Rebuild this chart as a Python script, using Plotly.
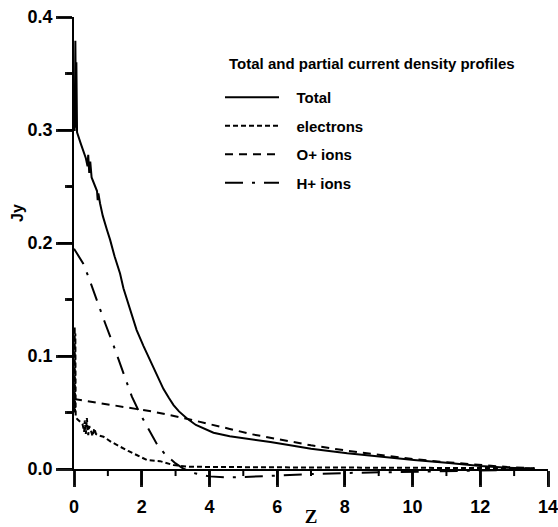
import plotly.graph_objects as go

# ---- data ----
z_total = [0.00, 0.02, 0.04, 0.06, 0.07, 0.09, 0.20, 0.35, 0.40, 0.42, 0.45, 0.48, 0.52, 0.60,
           0.68, 0.70, 0.72, 0.77, 0.85, 0.97, 1.065, 1.20, 1.36, 1.46, 1.56, 1.70, 1.85, 2.05,
           2.25, 2.45, 2.64, 2.80, 2.94, 3.10, 3.33, 3.60, 4.12, 4.60, 5.21, 5.80, 6.34, 7.00,
           8.07, 9.00, 10.04, 11.00, 12.00, 12.80, 13.60]
j_total = [0.300, 0.300, 0.379, 0.302, 0.360, 0.298, 0.288, 0.275, 0.268, 0.278, 0.262, 0.272,
           0.258, 0.252, 0.246, 0.238, 0.244, 0.235, 0.224, 0.212, 0.203, 0.188, 0.173, 0.160,
           0.151, 0.138, 0.123, 0.109, 0.096, 0.083, 0.071, 0.063, 0.0566, 0.051, 0.045, 0.039,
           0.0321, 0.029, 0.0265, 0.024, 0.0212, 0.0180, 0.0139, 0.0108, 0.0080, 0.0055, 0.0027,
           0.0012, 0.0003]

z_elec = [0.00, 0.02, 0.03, 0.04, 0.05, 0.10, 0.18, 0.25, 0.30, 0.32, 0.35, 0.38, 0.42, 0.45,
          0.50, 0.55, 0.60, 0.65, 0.70, 0.87, 1.10, 1.36, 1.60, 1.85, 2.15, 2.54, 2.94, 3.40,
          4.00, 6.00, 8.00, 10.00, 12.00, 13.60]
j_elec = [0.050, 0.126, 0.050, 0.120, 0.046, 0.044, 0.042, 0.040, 0.033, 0.043, 0.031, 0.045,
          0.030, 0.038, 0.034, 0.029, 0.036, 0.031, 0.030, 0.0286, 0.024, 0.0197, 0.016, 0.0124,
          0.008, 0.007, 0.0035, 0.002, 0.0018, 0.0015, 0.0013, 0.0011, 0.0009, 0.0007]

z_oplus = [0.00, 0.50, 1.16, 2.35, 3.33, 4.00, 4.60, 5.21, 6.09, 6.34, 7.00, 8.07, 9.00, 10.04,
           11.00, 12.00, 12.80, 13.60]
j_oplus = [0.062, 0.0595, 0.0566, 0.0507, 0.0445, 0.040, 0.0355, 0.031, 0.026, 0.0248, 0.021,
           0.0162, 0.0125, 0.0088, 0.006, 0.0035, 0.0018, 0.0006]

z_hplus = [0.00, 0.27, 0.44, 0.72, 0.92, 1.16, 1.41, 1.61, 1.71, 1.95, 2.25, 2.45, 2.69, 3.00,
           3.25, 3.60, 4.00, 4.50, 5.00, 6.00, 7.00, 8.00, 9.00, 10.00, 11.00, 12.00, 13.00, 13.60]
j_hplus = [0.195, 0.182, 0.169, 0.145, 0.129, 0.110, 0.089, 0.074, 0.064, 0.049, 0.032, 0.022,
           0.013, 0.005, 0.000, -0.004, -0.0065, -0.0075, -0.007, -0.0055, -0.0045, -0.0035,
           -0.003, -0.0025, -0.002, -0.0015, -0.0008, 0.0]

# tick values
x_major = [0, 2, 4, 6, 8, 10, 12, 14]
x_minor = [1, 3, 5, 7, 9, 11, 13]
y_major = [0.0, 0.1, 0.2, 0.3, 0.4]
y_minor = [0.05, 0.15, 0.25, 0.35]

X_RANGE = [0, 14]
X_DTICK = 2
Y_DTICK, Y_MINOR = 0.1, 0.05

legend_title = "Total and partial current density profiles"
names = ["Total", "electrons", "O+ ions", "H+ ions"]

Y_MIN = -0.0097
Y_MAX = 0.4
PAD = "\u00a0\u00a0\u00a0"
TICK_COLOR = "#1c1c1c"

W, H = 558, 527
ML, MR, MT, MB = 74, 10, 17, 47
PW, PH = W - ML - MR, H - MT - MB
MAJOR_LEN, MINOR_LEN = 16, 7

fig = go.Figure()
fig.add_trace(go.Scatter(x=[], y=[], xaxis="x", yaxis="y", showlegend=False))
styles = [
    (z_total, j_total, "solid"),
    (z_elec, j_elec, "5px,3px"),
    (z_oplus, j_oplus, "8px,6px"),
    (z_hplus, j_hplus, "18px,9px,3px,9px"),
]
for i, (zz, jj, dash) in enumerate(styles):
    fig.add_trace(go.Scatter(
        x=zz, y=jj, mode="lines", name=PAD + names[i], legendgroup=f"g{i}",
        xaxis="x2", yaxis="y2",
        line=dict(color="black", width=2, dash=dash),
    ))

sans = "Liberation Sans, Arial, sans-serif"
tickfont = dict(family=sans, size=18, color="black", weight="bold")
y0_frac = (0 - Y_MIN) / (Y_MAX - Y_MIN)

# tick marks drawn from the tick arrays (outside the axes)
shapes = []
for v in x_major + x_minor:
    ln = MAJOR_LEN if v in x_major else MINOR_LEN
    shapes.append(dict(type="line", xref="x", yref="paper", x0=v, x1=v,
                       y0=y0_frac, y1=y0_frac - ln / PH,
                       line=dict(color="black", width=2), layer="above"))
for v in y_major + y_minor:
    ln = MAJOR_LEN if v in y_major else MINOR_LEN
    shapes.append(dict(type="line", xref="paper", yref="y", x0=0, x1=-ln / PW,
                       y0=v, y1=v, line=dict(color="black", width=2), layer="above"))

fig.update_layout(
    template="none",
    width=W, height=H,
    margin=dict(l=ML, r=MR, t=MT, b=MB, autoexpand=False),
    paper_bgcolor="white", plot_bgcolor="rgba(0,0,0,0)",
    showlegend=True,
    legend=dict(
        x=(220 - 74) / 474, y=(480 - 81) / 463, xanchor="left", yanchor="top",
        bgcolor="rgba(0,0,0,0)",
        font=dict(family=sans, size=15, color="black", weight="bold"),
        itemwidth=54, tracegroupgap=6,
    ),
    xaxis=dict(
        range=X_RANGE, tickmode="linear", tick0=0, dtick=X_DTICK,
        showgrid=False, zeroline=False, showline=True, linecolor="black", linewidth=1.5,
        ticks="outside", ticklen=16, tickwidth=3, tickcolor=TICK_COLOR,
        tickfont=tickfont, ticklabelstandoff=5, ticklabeloverflow="allow",
        anchor="y",
        title=dict(text="Z", standoff=9,
                   font=dict(family="Liberation Serif, Times New Roman, serif", size=19,
                             color="black", weight="bold")),
        automargin=False,
    ),
    yaxis=dict(
        range=[0, Y_MAX], domain=[y0_frac, 1], tickmode="linear", tick0=0, dtick=Y_DTICK,
        tickformat=".1f",
        showgrid=False, zeroline=False, showline=True, linecolor="black", linewidth=1.5,
        ticks="outside", ticklen=16, tickwidth=3, tickcolor=TICK_COLOR,
        minor=dict(tickmode="linear", tick0=0, dtick=Y_MINOR, ticks="outside", ticklen=7,
                   tickwidth=3, tickcolor=TICK_COLOR, showgrid=False),
        tickfont=tickfont, ticklabelstandoff=0, ticklabeloverflow="allow",
        anchor="x", automargin=False,
    ),
    xaxis2=dict(range=X_RANGE, domain=[0, 1], anchor="y2", visible=False,
                showgrid=False, zeroline=False),
    yaxis2=dict(range=[Y_MIN, Y_MAX], domain=[0, 1], anchor="x2", visible=False,
                showgrid=False, zeroline=False),
    shapes=shapes,
    annotations=[
        dict(text="Jy", textangle=-90, xref="paper", yref="paper",
             x=(17 - 74) / 474, y=(480 - 213) / 463, xanchor="center", yanchor="middle",
             showarrow=False, font=dict(family=sans, size=16, color="black", weight="bold")),
        dict(text=legend_title, xref="paper", yref="paper",
             x=(227 - 74) / 474, y=(480 - 63) / 463, xanchor="left", yanchor="middle",
             showarrow=False, font=dict(family=sans, size=15, color="black", weight="bold")),
    ],
)

fig.write_html("out.html")
